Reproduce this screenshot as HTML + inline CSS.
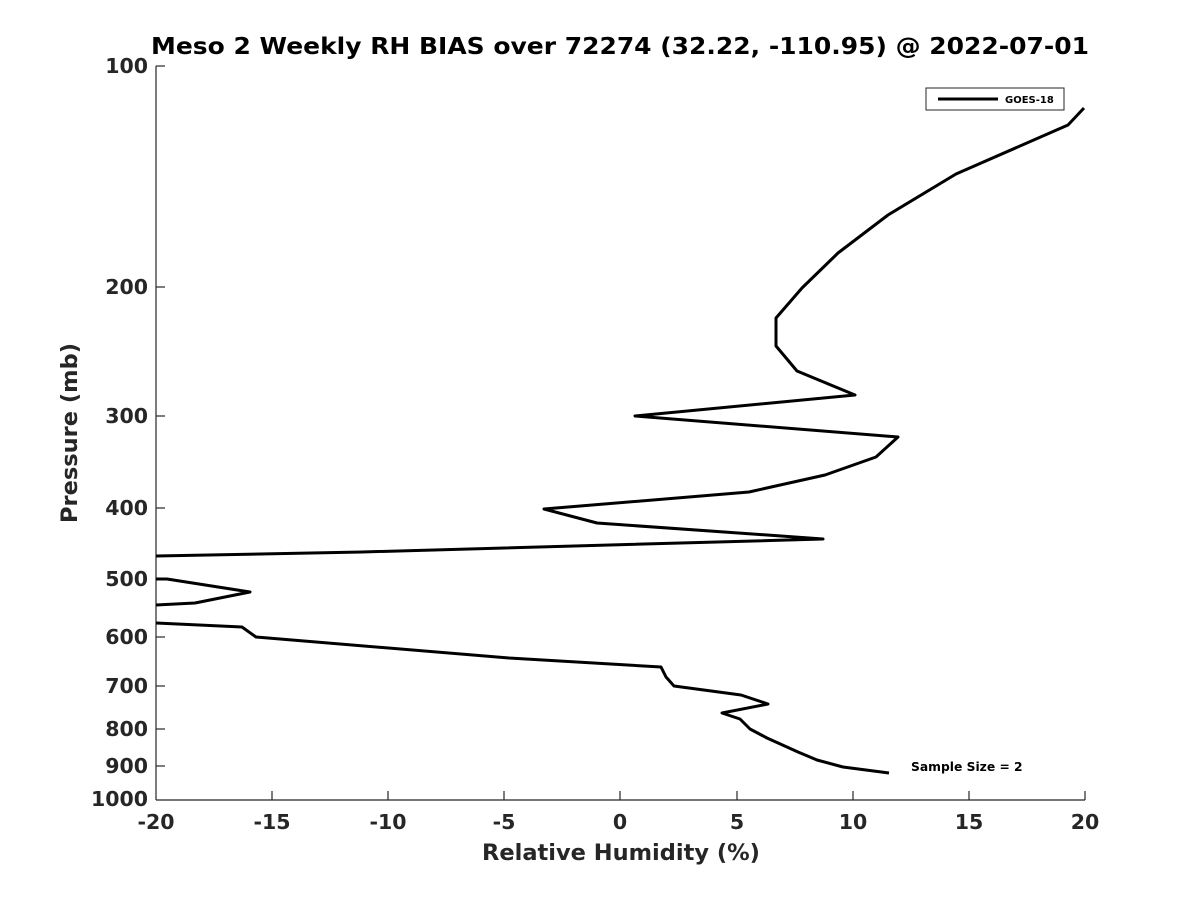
<!DOCTYPE html>
<html><head><meta charset="utf-8"><style>body{margin:0;background:#fff}</style></head><body>
<svg width="1200" height="900" xmlns="http://www.w3.org/2000/svg" font-family="'DejaVu Sans','Liberation Sans',sans-serif" font-weight="bold" fill="#262626">
<rect width="1200" height="900" fill="#fff"/>
<text x="620" y="54" text-anchor="middle" font-size="23" textLength="938" lengthAdjust="spacingAndGlyphs" fill="#000">Meso 2 Weekly RH BIAS over 72274 (32.22, -110.95) @ 2022-07-01</text>
<g stroke="#262626" stroke-width="1.2">
<line x1="156" y1="66" x2="156" y2="800"/>
<line x1="156" y1="800" x2="1085" y2="800"/>
<line x1="156" y1="66" x2="165" y2="66"/><line x1="156" y1="287" x2="165" y2="287"/><line x1="156" y1="416" x2="165" y2="416"/><line x1="156" y1="508" x2="165" y2="508"/><line x1="156" y1="579" x2="165" y2="579"/><line x1="156" y1="637" x2="165" y2="637"/><line x1="156" y1="686" x2="165" y2="686"/><line x1="156" y1="729" x2="165" y2="729"/><line x1="156" y1="766" x2="165" y2="766"/>
<line x1="272" y1="800" x2="272" y2="791"/><line x1="388" y1="800" x2="388" y2="791"/><line x1="504" y1="800" x2="504" y2="791"/><line x1="620" y1="800" x2="620" y2="791"/><line x1="737" y1="800" x2="737" y2="791"/><line x1="853" y1="800" x2="853" y2="791"/><line x1="969" y1="800" x2="969" y2="791"/><line x1="1085" y1="800" x2="1085" y2="791"/>
</g>
<g font-size="20.5" text-anchor="end">
<text x="148" y="73">100</text><text x="148" y="294">200</text><text x="148" y="423">300</text><text x="148" y="515">400</text><text x="148" y="586">500</text><text x="148" y="644">600</text><text x="148" y="693">700</text><text x="148" y="736">800</text><text x="148" y="773">900</text><text x="148" y="806">1000</text>
</g>
<g font-size="20.5" text-anchor="middle">
<text x="156" y="829">-20</text><text x="272" y="829">-15</text><text x="388" y="829">-10</text><text x="504" y="829">-5</text><text x="620" y="829">0</text><text x="737" y="829">5</text><text x="853" y="829">10</text><text x="969" y="829">15</text><text x="1085" y="829">20</text>
</g>
<text x="621" y="860" text-anchor="middle" font-size="22.5">Relative Humidity (%)</text>
<text transform="translate(77,433) rotate(-90)" text-anchor="middle" font-size="22.5">Pressure (mb)</text>
<polyline fill="none" stroke="#000" stroke-width="3" stroke-linejoin="round" points="1084,108 1068,125 956,174 888,215 838,253 802,288 776,318 776,346 797,371 855,395 635,416 898,437 876,457 825,475 749,492 544,509 597,523 823,539 362,552 156,556"/>
<polyline fill="none" stroke="#000" stroke-width="3" stroke-linejoin="round" points="156,579 167,579 250,592 195,603 156,605"/>
<polyline fill="none" stroke="#000" stroke-width="3" stroke-linejoin="round" points="156,623 242,627 256,637 509,658 661,667 666,677 674,686 741,695 768,704 722,713 740,719 750,729 767,738 798,752 817,760 843,767 889,773"/>
<rect x="926" y="88" width="138" height="22" fill="#fff" stroke="#262626" stroke-width="1"/>
<line x1="938" y1="99" x2="998" y2="99" stroke="#000" stroke-width="3"/>
<text x="1005" y="103" font-size="10" fill="#000">GOES-18</text>
<text x="911" y="771" font-size="12.3" fill="#000">Sample Size = 2</text>
</svg>
</body></html>
